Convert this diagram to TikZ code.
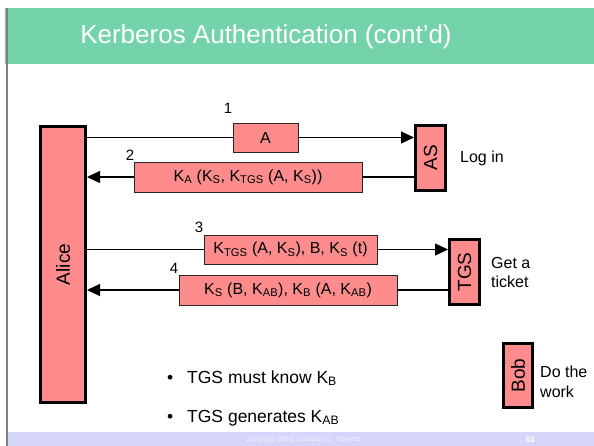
\documentclass[tikz,border=0pt]{standalone}
\usepackage{fontspec}
\setmainfont{Liberation Sans}
\usetikzlibrary{arrows.meta}
\definecolor{salmon}{HTML}{FF8C8C}
\definecolor{band}{HTML}{74D3AB}
\definecolor{foot}{HTML}{D6D6FA}
\newcommand{\sbs}[1]{\textsubscript{#1}}

\begin{document}
\begin{tikzpicture}[x=1pt,y=-1pt,
  party/.style={draw=black, line width=3pt, fill=salmon, inner sep=0pt,
                font=\fontsize{19}{19}\selectfont},
  msg/.style={draw=black!85, line width=0.9pt, fill=salmon, inner sep=0pt,
              font=\fontsize{16}{16}\selectfont},
  num/.style={font=\fontsize{15}{15}\selectfont, inner sep=0pt},
  side/.style={font=\fontsize{16}{19.5}\selectfont, align=left, anchor=west, inner sep=0pt},
  bullet/.style={font=\fontsize{17.5}{17.5}\selectfont, anchor=west, inner sep=0pt},
  arr/.style={line width=1.3pt, -{Triangle[length=13pt,width=12pt]}},
  wire/.style={line width=1.3pt}]

\useasboundingbox (0,0) rectangle (594,446);
\fill[white] (0,0) rectangle (594,446);

% slide frame: title band, footer band, left rule
\fill[band] (5,8) rectangle (594,64);
\fill[foot] (6,432) rectangle (594,446);
\draw[gray, line width=2pt] (6.5,8) -- (6.5,446);
\node[text=white, font=\fontsize{26}{26}\selectfont] (title) at (266,37)
  {Kerberos Authentication (cont’d)};

% principals
\node[party, minimum width=45, minimum height=276] (alice) at (63,264.5) {\rotatebox{90}{Alice}};
\node[party, minimum width=30, minimum height=65] (as) at (430.5,158) {\rotatebox{90}{AS}};
\node[party, minimum width=30, minimum height=65] (tgs) at (464.5,272) {\rotatebox{90}{TGS}};
\node[party, minimum width=29, minimum height=64] (bob) at (518,375.5) {\rotatebox{90}{Bob}};

% messages
\node[msg, minimum width=65, minimum height=29] (m1) at (265.5,137.5) {A};
\node[msg, minimum width=228, minimum height=30] (m2) at (248,177)
  {K\sbs{A} (K\sbs{S}, K\sbs{TGS} (A, K\sbs{S}))};
\node[msg, minimum width=173, minimum height=29] (m3) at (290.5,249.5)
  {K\sbs{TGS} (A, K\sbs{S}), B, K\sbs{S} (t)};
\node[msg, minimum width=218, minimum height=30] (m4) at (288,290)
  {K\sbs{S} (B, K\sbs{AB}), K\sbs{B} (A, K\sbs{AB})};

% step numbers
\node[num] (n1) at (228,108) {1};
\node[num] (n2) at (130,155) {2};
\node[num] (n3) at (199,227) {3};
\node[num] (n4) at (174,268) {4};

% connectors
\draw[wire] (alice.east |- m1.west) -- (m1.west);
\draw[arr] (m1.east) -- (as.west |- m1.east);
\draw[wire] (as.west |- m2.east) -- (m2.east);
\draw[arr] (m2.west) -- (alice.east |- m2.west);
\draw[wire] (alice.east |- m3.west) -- (m3.west);
\draw[arr] (m3.east) -- (tgs.west |- m3.east);
\draw[wire] (tgs.west |- m4.east) -- (m4.east);
\draw[arr] (m4.west) -- (alice.east |- m4.west);

% side notes
\node[side] (login) at (460,158) {Log in};
\node[side] (ticket) at (491,272.5) {Get a\\ticket};
\node[side] (work) at (540,382) {Do the\\work};

% bullet points
\node[bullet] (b1) at (167,378) {\makebox[20pt][l]{\textbullet}TGS must know K\sbs{B}};
\node[bullet] (b2) at (167,418) {\makebox[20pt][l]{\textbullet}TGS generates K\sbs{AB}};

% footer
\node[text=white!55!foot, font=\fontsize{7.5}{7.5}\selectfont] (copy) at (303,440)
  {copyright 2005 Douglas S. Reeves};
\node[text=white, font=\bfseries\fontsize{8}{8}\selectfont] (page) at (530,440) {53};
\end{tikzpicture}
\end{document}
